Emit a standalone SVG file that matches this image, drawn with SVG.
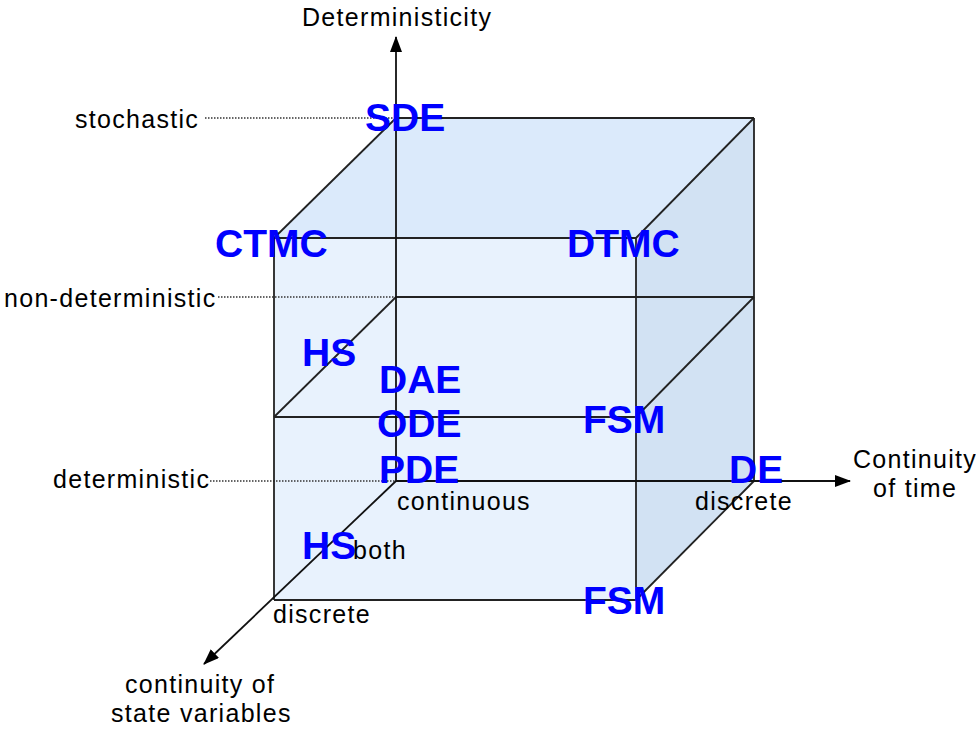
<svg xmlns="http://www.w3.org/2000/svg" width="976" height="733" viewBox="0 0 976 733">
<defs>
<marker id="arr" viewBox="0 0 16 12" refX="15" refY="6" markerWidth="16" markerHeight="12" markerUnits="userSpaceOnUse" orient="auto">
<path d="M0,0 L16,6 L0,12 Z" fill="#000"/>
</marker>
</defs>
<style>
.edge{stroke:#222;stroke-width:1.8;fill:none}
.axis{stroke:#111;stroke-width:1.8;fill:none}
.dot{stroke:#333;stroke-width:1.6;stroke-dasharray:1.5,1.5;fill:none}
.lbl{font-family:"Liberation Sans",Arial,sans-serif;font-size:25px;letter-spacing:1.3px;fill:#000}
.mdl{font-family:"Liberation Sans",Arial,sans-serif;font-size:39px;font-weight:bold;fill:#0000ff}
</style>
<rect width="976" height="733" fill="#fff"/>
<g id="cube-faces">
<polygon points="274,238 396,118 754,118 636,238" fill="#dbeafb"/>
<polygon points="636,238 754,118 754,481 636,600" fill="#d2e2f3"/>
<rect x="274" y="238" width="362" height="362" fill="#e8f2fd"/>
</g>
<g id="connectors">
<line class="dot" x1="205" y1="118" x2="396" y2="118"/>
<line class="dot" x1="218" y1="297" x2="396" y2="297"/>
<line class="dot" x1="210" y1="481" x2="396" y2="481"/>
<line class="edge" x1="396" y1="118" x2="754" y2="118"/>
<line class="edge" x1="396" y1="297" x2="754" y2="297"/>
<line class="edge" x1="754" y1="118" x2="754" y2="481"/>
<line class="edge" x1="274" y1="238" x2="636" y2="238"/>
<line class="edge" x1="274" y1="417" x2="636" y2="417"/>
<line class="edge" x1="274" y1="600" x2="636" y2="600"/>
<line class="edge" x1="274" y1="238" x2="274" y2="600"/>
<line class="edge" x1="636" y1="238" x2="636" y2="600"/>
<line class="edge" x1="274" y1="238" x2="396" y2="118"/>
<line class="edge" x1="636" y1="238" x2="754" y2="118"/>
<line class="edge" x1="274" y1="417" x2="396" y2="297"/>
<line class="edge" x1="636" y1="417" x2="754" y2="297"/>
<line class="edge" x1="636" y1="600" x2="754" y2="481"/>
<line class="axis" x1="396" y1="481" x2="396" y2="37" marker-end="url(#arr)"/>
<line class="axis" x1="396" y1="481" x2="850" y2="481" marker-end="url(#arr)"/>
<line class="axis" x1="396" y1="481" x2="204" y2="664" marker-end="url(#arr)"/>
</g>
<g id="axis-labels">
<text class="lbl" x="302" y="26">Deterministicity</text>
<text class="lbl" x="853" y="468">Continuity</text>
<text class="lbl" x="873" y="497">of time</text>
<text class="lbl" x="125" y="693">continuity of</text>
<text class="lbl" x="111" y="722">state variables</text>
</g>
<g id="level-labels">
<text class="lbl" x="75" y="128">stochastic</text>
<text class="lbl" x="4" y="307">non-deterministic</text>
<text class="lbl" x="53" y="488">deterministic</text>
<text class="lbl" x="397" y="510">continuous</text>
<text class="lbl" x="695" y="510">discrete</text>
<text class="lbl" x="273" y="623">discrete</text>
<text class="lbl" x="353" y="559">both</text>
</g>
<g id="node-SDE"><text class="mdl" x="365" y="131">SDE</text></g>
<g id="node-CTMC"><text class="mdl" x="215" y="257">CTMC</text></g>
<g id="node-DTMC"><text class="mdl" x="567" y="257">DTMC</text></g>
<g id="node-HS-upper"><text class="mdl" x="302" y="366">HS</text></g>
<g id="node-DAE"><text class="mdl" x="379" y="393">DAE</text></g>
<g id="node-ODE"><text class="mdl" x="377" y="437">ODE</text></g>
<g id="node-PDE"><text class="mdl" x="379" y="483">PDE</text></g>
<g id="node-FSM-upper"><text class="mdl" x="583" y="433">FSM</text></g>
<g id="node-DE"><text class="mdl" x="729" y="483">DE</text></g>
<g id="node-HS-lower"><text class="mdl" x="302" y="559">HS</text></g>
<g id="node-FSM-lower"><text class="mdl" x="583" y="614">FSM</text></g>
</svg>
